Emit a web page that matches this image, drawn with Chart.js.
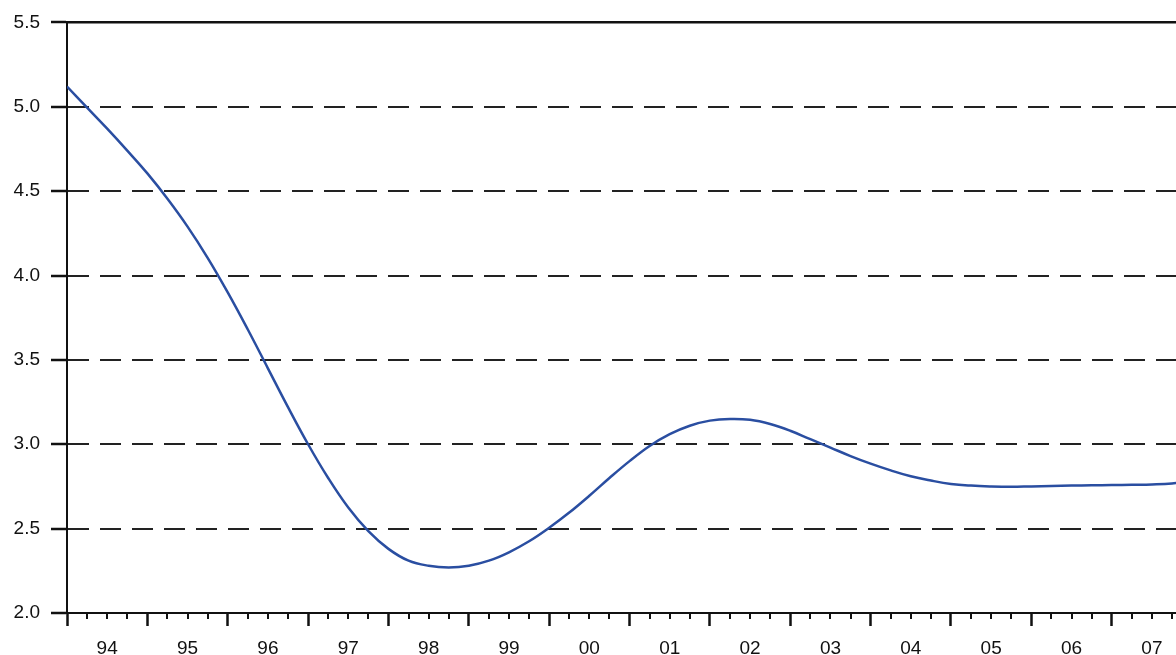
<!DOCTYPE html>
<html lang="en">
<head>
  <meta charset="UTF-8" />
  <title>Rate 1994-2007</title>
  <script src="https://cdn.jsdelivr.net/npm/chart.js"></script>
  <style>
    html, body { margin: 0; padding: 0; background: #fff; }
    canvas { display: block; }
  </style>
</head>
<body>
  <canvas id="rateChart" width="1176" height="655"></canvas>

  <script>
    // quarterly observations, decimal years
    const periods = [
      1994.00, 1994.25, 1994.50, 1994.75, 1995.00, 1995.25, 1995.50, 1995.75,
      1996.00, 1996.25, 1996.50, 1996.75, 1997.00, 1997.25, 1997.50, 1997.75,
      1998.00, 1998.25, 1998.50, 1998.75, 1999.00, 1999.25, 1999.50, 1999.75,
      2000.00, 2000.25, 2000.50, 2000.75, 2001.00, 2001.25, 2001.50, 2001.75,
      2002.00, 2002.25, 2002.50, 2002.75, 2003.00, 2003.25, 2003.50, 2003.75,
      2004.00, 2004.25, 2004.50, 2004.75, 2005.00, 2005.25, 2005.50, 2005.75,
      2006.00, 2006.25, 2006.50, 2006.75, 2007.00, 2007.25, 2007.50, 2007.75,
      2008.00
    ];
    const values = [
      5.12, 4.995, 4.87, 4.74, 4.605, 4.455, 4.29, 4.105,
      3.90, 3.68, 3.45, 3.22, 3.00, 2.80, 2.625, 2.485,
      2.38, 2.31, 2.28, 2.27, 2.28, 2.31, 2.36, 2.425,
      2.505, 2.595, 2.695, 2.80, 2.90, 2.99, 3.06, 3.11,
      3.14, 3.15, 3.145, 3.12, 3.08, 3.03, 2.98, 2.93,
      2.885, 2.845, 2.81, 2.785, 2.765, 2.755, 2.75, 2.748,
      2.75, 2.752, 2.755, 2.757, 2.758, 2.76, 2.762, 2.768,
      2.785
    ];
    const yearLabels = ['94', '95', '96', '97', '98', '99', '00', '01', '02', '03', '04', '05', '06', '07'];
    const firstYear = 1994;
    const xMax = 2007.8;
    const yTicks = [2.0, 2.5, 3.0, 3.5, 4.0, 4.5, 5.0, 5.5];

    const font = { family: '"Liberation Sans", Arial, sans-serif', size: 19 };

    // short quarter ticks between the year ticks
    const minorTicks = {
      id: 'minorTicks',
      afterDraw(chart) {
        const x = chart.scales.x;
        const ctx = chart.ctx;
        const y0 = chart.chartArea.bottom;
        ctx.save();
        ctx.strokeStyle = '#111';
        ctx.lineWidth = 2;
        ctx.beginPath();
        for (let q = firstYear * 4; q / 4 <= xMax; q++) {
          if (q % 4 === 0) continue;
          const px = Math.round(x.getPixelForValue(q / 4));
          ctx.moveTo(px, y0);
          ctx.lineTo(px, y0 + 6);
        }
        ctx.stroke();
        ctx.restore();
      }
    };

    new Chart(document.getElementById('rateChart'), {
      type: 'line',
      data: {
        datasets: [{
          data: periods.map((p, i) => ({ x: p, y: values[i] })),
          borderColor: '#2a4ea1',
          borderWidth: 2.5,
          pointRadius: 0,
          tension: 0.4,
          fill: false
        }]
      },
      options: {
        responsive: false,
        animation: false,
        layout: { padding: { top: 13, right: 0, bottom: 0, left: 0 } },
        plugins: { legend: { display: false }, tooltip: { enabled: false } },
        scales: {
          x: {
            type: 'linear',
            min: firstYear,
            max: xMax,
            afterBuildTicks: s => {
              const t = [];
              yearLabels.forEach((_, i) => {
                t.push({ value: firstYear + i });
                if (firstYear + i + 0.5 <= xMax) t.push({ value: firstYear + i + 0.5 });
              });
              s.ticks = t;
            },
            afterFit: s => { s.height = 42; },
            grid: {
              drawOnChartArea: false,
              tickLength: 13,
              tickWidth: 2.5,
              tickColor: c => (c.tick && c.tick.value % 1 === 0 ? '#111' : 'rgba(0,0,0,0)')
            },
            border: { color: '#111', width: 2 },
            ticks: {
              autoSkip: false,
              maxRotation: 0,
              padding: 11,
              color: '#111',
              font: font,
              callback: v => (v % 1 === 0.5 ? yearLabels[Math.floor(v) - firstYear] : '')
            }
          },
          top: {
            type: 'linear',
            position: 'top',
            min: firstYear,
            max: xMax,
            grid: { display: false, drawTicks: false },
            ticks: { display: false },
            border: { color: '#111', width: 2.5 }
          },
          y: {
            min: 2,
            max: 5.5,
            afterBuildTicks: s => { s.ticks = yTicks.map(v => ({ value: v })); },
            afterFit: s => { s.width = 67; },
            grid: {
              color: c => (c.tick && (c.tick.value === 2 || c.tick.value === 5.5) ? 'rgba(0,0,0,0)' : '#222'),
              lineWidth: 2,
              tickLength: 16,
              tickWidth: 2.5,
              tickColor: '#111'
            },
            border: { color: '#111', width: 2, dash: [21, 11] },
            ticks: {
              padding: 11,
              color: '#111',
              font: font,
              callback: v => v.toFixed(1)
            }
          }
        }
      },
      plugins: [minorTicks]
    });
  </script>
</body>
</html>
